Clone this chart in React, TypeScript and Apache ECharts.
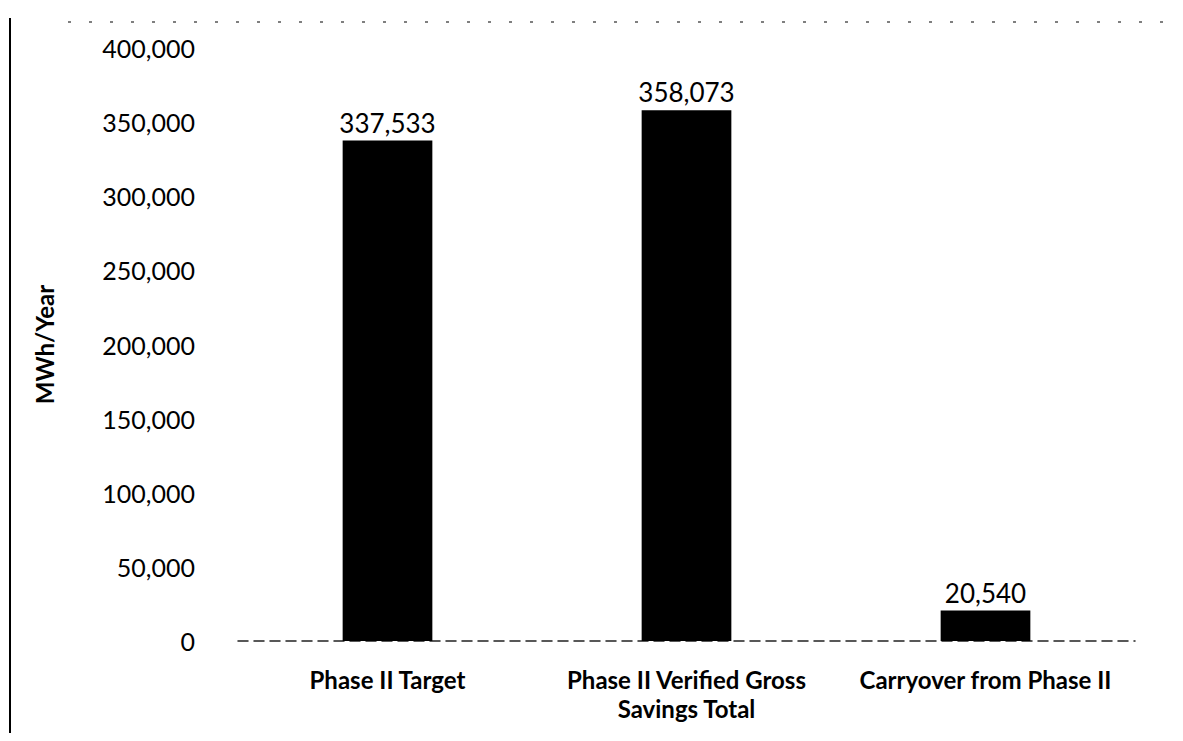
import React, { useEffect, useRef } from "react";
import * as echarts from "echarts";

const categories = ["Phase II Target", "Phase II Verified Gross\nSavings Total", "Carryover from Phase II"];
const values = [337533, 358073, 20540];
const yTicks = { min: 0, max: 400000, interval: 50000 };
const yAxisTitle = "MWh/Year";

const fmt = (v: number) => v.toLocaleString("en-US");

export default function App() {
  const ref = useRef<HTMLDivElement>(null);
  useEffect(() => {
    if (!ref.current) return;
    const chart = echarts.init(ref.current, null, { renderer: "svg" });
    const font = "Lato, 'Open Sans', sans-serif";
    chart.setOption({
      animation: false,
      backgroundColor: "#ffffff",
      textStyle: { fontFamily: font },
      grid: { left: 230, right: 40, top: 40, bottom: 92, containLabel: false },
      xAxis: {
        type: "category",
        data: categories,
        axisLine: { show: true, lineStyle: { color: "#222", type: [10, 6], width: 1.5 } },
        axisTick: { show: false },
        axisLabel: {
          color: "#000",
          fontSize: 24,
          fontWeight: "bold",
          fontFamily: font,
          margin: 24,
          lineHeight: 29,
          interval: 0,
          hideOverlap: false,
        },
      },
      yAxis: {
        type: "value",
        min: yTicks.min,
        max: yTicks.max,
        interval: yTicks.interval,
        name: yAxisTitle,
        nameLocation: "middle",
        nameGap: 182,
        nameRotate: 90,
        nameTextStyle: { color: "#000", fontSize: 24, fontWeight: "bold", fontFamily: font },
        axisLine: { show: false },
        axisTick: { show: false },
        splitLine: { show: false },
        axisLabel: { color: "#000", fontSize: 25, fontFamily: font, margin: 43, formatter: (v: number) => fmt(v) },
      },
      series: [
        {
          type: "bar",
          data: values,
          barWidth: "30%",
          itemStyle: { color: "#000" },
          label: {
            show: true,
            position: "top",
            color: "#000",
            fontSize: 26,
            fontFamily: font,
            distance: 5,
            formatter: (p: any) => fmt(p.value),
          },
        },
      ],
      graphic: [
        { type: "line", shape: { x1: 2, y1: 10, x2: 2, y2: 735 }, style: { stroke: "#000", lineWidth: 2 } },
        { type: "line", shape: { x1: 60, y1: 14, x2: 1170, y2: 14 }, style: { stroke: "#555", lineWidth: 1.5, lineDash: [3, 18] } },
      ],
    });
    return () => chart.dispose();
  }, []);
  return <div ref={ref} style={{ width: 1167, height: 725 }} />;
}
